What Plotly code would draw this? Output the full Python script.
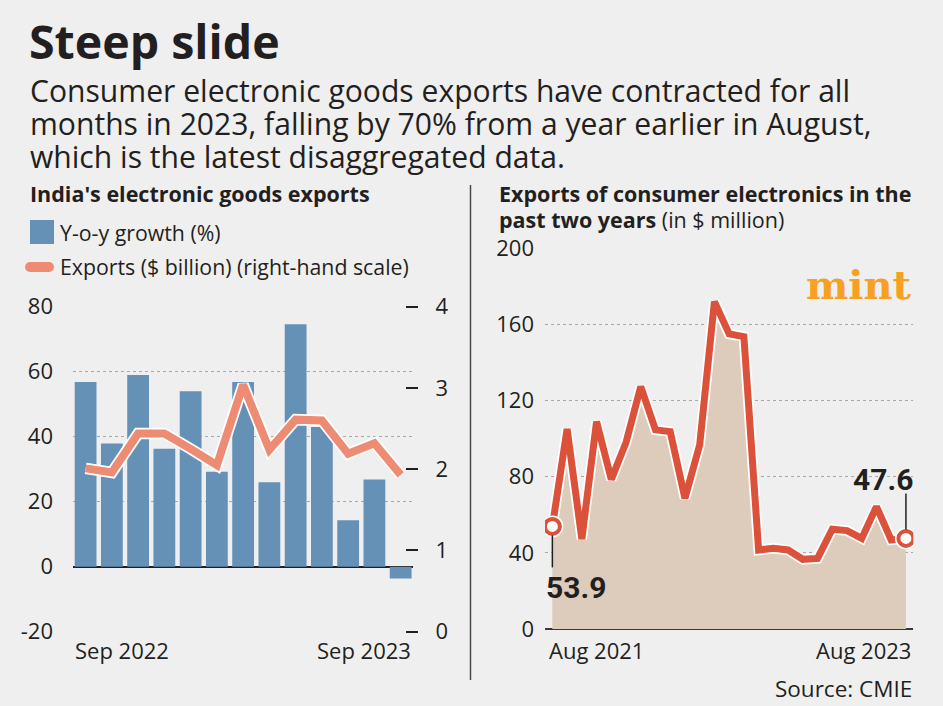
import plotly.graph_objects as go

# ---------------- data ----------------
months_left = ["Sep 2022", "Oct 2022", "Nov 2022", "Dec 2022", "Jan 2023", "Feb 2023",
               "Mar 2023", "Apr 2023", "May 2023", "Jun 2023", "Jul 2023", "Aug 2023", "Sep 2023"]
yoy_growth = [56.8, 37.9, 59.0, 36.3, 54.0, 29.2, 56.8, 26.0, 74.6, 43.0, 14.3, 26.8, -3.6]
exports_bn = [2.01, 1.96, 2.44, 2.44, 2.25, 2.05, 3.04, 2.24, 2.61, 2.60, 2.19, 2.32, 1.93]

months_right = ["Aug 2021", "Sep 2021", "Oct 2021", "Nov 2021", "Dec 2021", "Jan 2022",
                "Feb 2022", "Mar 2022", "Apr 2022", "May 2022", "Jun 2022", "Jul 2022",
                "Aug 2022", "Sep 2022", "Oct 2022", "Nov 2022", "Dec 2022", "Jan 2023",
                "Feb 2023", "Mar 2023", "Apr 2023", "May 2023", "Jun 2023", "Jul 2023", "Aug 2023"]
consumer_mn = [53.9, 105.1, 47.3, 108.9, 78.6, 98.0, 127.3, 104.6, 103.7, 68.7, 96.7, 172.0,
               155.0, 153.6, 41.5, 42.4, 41.5, 36.6, 37.1, 52.4, 51.7, 47.6, 64.3, 46.8, 47.6]

left_ticks = [-20, 0, 20, 40, 60, 80]
left_tick_labels = ["-20", "0", "20", "40", "60", "80"]
right_scale_ticks = [0, 1, 2, 3, 4]
right_ticks = [0, 40, 80, 120, 160, 200]

# ---------------- style ----------------
W, H = 943, 706
BG = "#EFEFEF"
BLUE = "#6691B7"
SALMON = "#EE8C73"
RED = "#DB513A"
BEIGE = "#DDCBBB"
ORANGE = "#F7A021"
INK = "#231F20"
GRID = "#A8A8A8"
FONT = "Open Sans"


def px(x):
    return x / W


def py(y):
    return 1 - y / H


fig = go.Figure()

# ----- left chart -----
fig.add_trace(go.Bar(x=months_left, y=yoy_growth, marker=dict(color=BLUE, line=dict(width=0)),
                     xaxis="x", yaxis="y", showlegend=False, hoverinfo="skip"))
fig.add_trace(go.Scatter(x=months_left, y=exports_bn, mode="lines",
                         line=dict(color="white", width=11.5),
                         xaxis="x", yaxis="y2", showlegend=False, hoverinfo="skip"))
fig.add_trace(go.Scatter(x=months_left, y=exports_bn, mode="lines",
                         line=dict(color=SALMON, width=8),
                         xaxis="x", yaxis="y2", showlegend=False))

# ----- right chart -----
fig.add_trace(go.Scatter(x=months_right, y=consumer_mn, mode="none", fill="tozeroy",
                         fillcolor=BEIGE, xaxis="x2", yaxis="y3", showlegend=False,
                         hoverinfo="skip"))
fig.add_trace(go.Scatter(x=months_right, y=consumer_mn, mode="lines",
                         line=dict(color="white", width=10.5),
                         xaxis="x2", yaxis="y3", showlegend=False, hoverinfo="skip"))
fig.add_trace(go.Scatter(x=months_right, y=consumer_mn, mode="lines",
                         line=dict(color=RED, width=7),
                         xaxis="x2", yaxis="y3", showlegend=False))
ends_x = [months_right[0], months_right[-1]]
ends_y = [consumer_mn[0], consumer_mn[-1]]
fig.add_trace(go.Scatter(x=ends_x, y=ends_y, mode="markers",
                         marker=dict(size=22, color="white"),
                         xaxis="x2", yaxis="y3", showlegend=False, hoverinfo="skip"))
fig.add_trace(go.Scatter(x=ends_x, y=ends_y, mode="markers",
                         marker=dict(size=15, color="white", line=dict(color=RED, width=4)),
                         xaxis="x2", yaxis="y3", showlegend=False))

fig.update_layout(
    template="none",
    width=W, height=H,
    margin=dict(l=0, r=0, t=0, b=0, pad=0),
    paper_bgcolor=BG, plot_bgcolor="rgba(0,0,0,0)",
    font=dict(family=FONT, color=INK, size=21),
    showlegend=False,
    bargap=0.17,
    xaxis=dict(domain=[px(73), px(413)], range=[-0.48, 12.47], type="category",
               showticklabels=False, showgrid=False, zeroline=False, showline=False,
               ticks="", anchor="y", automargin=False),
    yaxis=dict(domain=[py(631.7), py(306.7)], range=[-20, 80], tickvals=left_ticks,
               ticktext=left_tick_labels,
               showgrid=True, gridcolor=GRID, griddash="dot", gridwidth=1.2,
               zeroline=True, zerolinecolor=INK, zerolinewidth=2,
               ticks="", ticklabelstandoff=19, tickfont=dict(size=22, color=INK),
               showline=False, anchor="x", automargin=False),
    yaxis2=dict(overlaying="y", anchor="free", position=px(405), side="right",
                range=[0, 4], tickvals=right_scale_ticks, showgrid=False, zeroline=False,
                ticks="outside", ticklen=12, tickwidth=2, tickcolor=INK,
                ticklabelstandoff=13, tickfont=dict(size=22, color=INK), showline=False,
                automargin=False),
    xaxis2=dict(domain=[px(545), px(913.3)], range=[-0.5, 24.5], type="category",
                showticklabels=False, showgrid=False, zeroline=False, showline=False,
                ticks="", anchor="y3", automargin=False),
    yaxis3=dict(domain=[py(629), py(248.3)], range=[0, 200], tickvals=right_ticks,
                showgrid=True, gridcolor=GRID, griddash="dot", gridwidth=1.2,
                zeroline=True, zerolinecolor="#3A3A3A", zerolinewidth=2,
                ticks="", ticklabelstandoff=10, tickfont=dict(size=22, color=INK),
                showline=False, anchor="x2", automargin=False),
)

ann = []


def text(x, y, s, size, anchor="left", color=INK, family=FONT, **kw):
    ann.append(dict(xref="paper", yref="paper", x=px(x), y=py(y), text=s,
                    showarrow=False, xanchor=anchor, yanchor="middle",
                    font=dict(size=size, color=color, family=family), **kw))


text(27, 41, "<b>Steep slide</b>", 46.5)
text(28, 90, "Consumer electronic goods exports have contracted for all", 30.1)
text(28, 123, "months in 2023, falling by 70% from a year earlier in August,", 30.1)
text(28, 156, "which is the latest disaggregated data.", 30.1)
text(28, 193, "<b>India's electronic goods exports</b>", 21.5)
text(58, 232, "Y-o-y growth (%)", 21.3)
text(58, 267, "Exports ($ billion) (right-hand scale)", 21.3)
text(497, 193, "<b>Exports of consumer electronics in the</b>", 21.5)
text(497, 219, "<b>past two years</b> (in $ million)", 21.5)
text(914, 688, "Source: CMIE", 22.5, anchor="right")
text(914, 284, "<b>mint</b>", 40, anchor="right", color=ORANGE, family="DejaVu Serif")

# x-axis end labels
ann.append(dict(xref="x", yref="paper", x=-0.48, y=py(650), text=months_left[0],
                showarrow=False, xanchor="left", yanchor="middle", font=dict(size=22)))
ann.append(dict(xref="x", yref="paper", x=12.47, y=py(650), text=months_left[-1],
                showarrow=False, xanchor="right", yanchor="middle", font=dict(size=22)))
ann.append(dict(xref="x2", yref="paper", x=-0.5, y=py(650), text=months_right[0],
                showarrow=False, xanchor="left", yanchor="middle", font=dict(size=22),
                xshift=2))
ann.append(dict(xref="x2", yref="paper", x=24.5, y=py(650), text=months_right[-1],
                showarrow=False, xanchor="right", yanchor="middle", font=dict(size=22)))

# value call-outs
ann.append(dict(xref="x2", yref="y3", x=0, y=consumer_mn[0], text=f"<b>{consumer_mn[0]:.1f}</b>",
                showarrow=False, xanchor="left", yanchor="middle", xshift=-8, yshift=-61,
                font=dict(size=30, color=INK, family="Roboto")))
ann.append(dict(xref="x2", yref="y3", x=24, y=consumer_mn[-1], text=f"<b>{consumer_mn[-1]:.1f}</b>",
                showarrow=False, xanchor="right", yanchor="middle", xshift=9, yshift=59,
                font=dict(size=30, color=INK, family="Roboto")))
fig.update_layout(annotations=ann)

shapes = [
    # divider
    dict(type="line", xref="paper", yref="paper", x0=px(470.5), x1=px(470.5),
         y0=py(185), y1=py(680), line=dict(color="#4A4A4A", width=1.5)),
    # legend swatches
    dict(type="rect", xref="paper", yref="paper", x0=px(30), x1=px(54), y0=py(244), y1=py(220),
         fillcolor=BLUE, line=dict(width=0)),
    dict(type="line", xref="paper", yref="paper", x0=px(30), x1=px(49), y0=py(267), y1=py(267),
         line=dict(color=SALMON, width=10)),
    dict(type="circle", xref="paper", yref="paper", x0=px(25), x1=px(35), y0=py(272), y1=py(262),
         fillcolor=SALMON, line=dict(width=0)),
    dict(type="circle", xref="paper", yref="paper", x0=px(44), x1=px(54), y0=py(272), y1=py(262),
         fillcolor=SALMON, line=dict(width=0)),
    # connectors for call-outs
    dict(type="line", xref="x2", yref="y3", x0=0, x1=0, ysizemode="pixel",
         yanchor=consumer_mn[0], y0=-9, y1=-41, line=dict(color=INK, width=1.5)),
    dict(type="line", xref="x2", yref="y3", x0=24, x1=24, ysizemode="pixel",
         yanchor=consumer_mn[-1], y0=9, y1=45, line=dict(color=INK, width=1.5)),
]
fig.update_layout(shapes=shapes)

fig.write_html("out.html")
